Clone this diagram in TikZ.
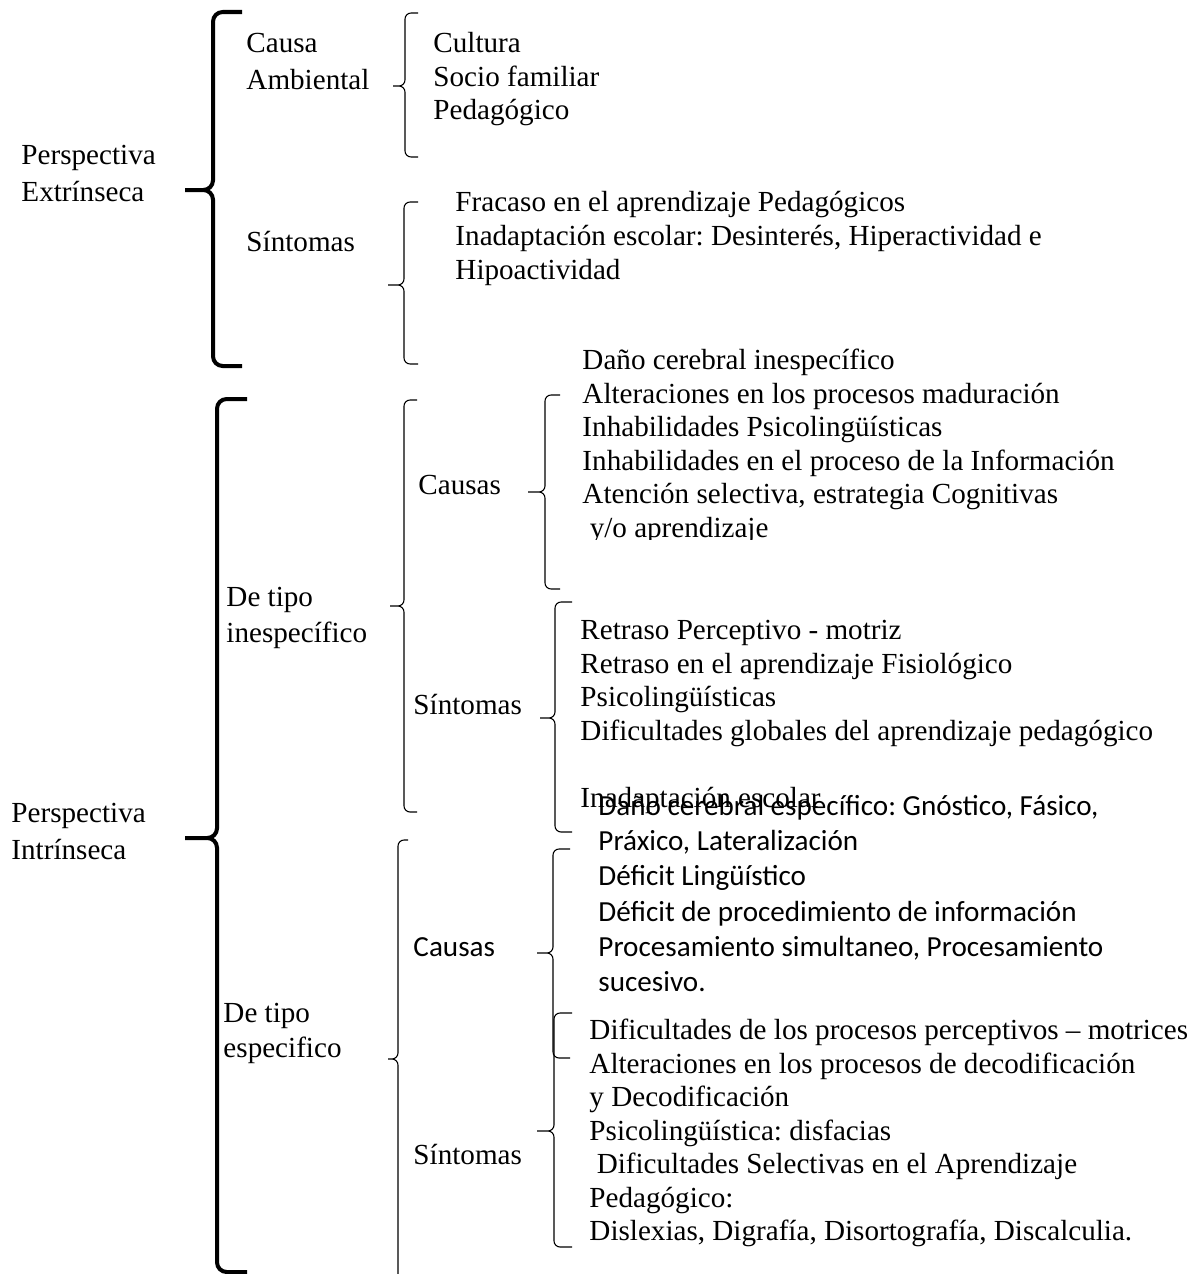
\documentclass[tikz,border=0pt]{standalone}
\usepackage{fontspec}
\setmainfont{Liberation Serif}
\newfontfamily\calibri{Carlito}
\frenchspacing
\tikzstyle{titulo} = [anchor=base west, inner sep=0pt, align=left, font=\fontsize{12}{15.2}\selectfont]
\tikzstyle{lista} = [anchor=base west, inner sep=0pt, align=left, font=\fontsize{12}{13.8}\selectfont]
\tikzstyle{listasans} = [anchor=base west, inner sep=0pt, align=left, font=\calibri\fontsize{12}{14.5}\selectfont]
\tikzstyle{llave} = [line width=0.45pt, rounded corners=2.5pt]
\tikzstyle{llavegruesa} = [line width=1.65pt, rounded corners=4pt]

\begin{document}
\begin{tikzpicture}[x=0.412pt, y=-0.412pt]
	\useasboundingbox (0,0) rectangle (1203,1274);

	% perspectiva extrinseca
	\node [titulo] at (21,201.5) (pext) {Perspectiva\\Extrínseca};
	\node [titulo] at (246,89.5) (causaamb) {Causa\\Ambiental};
	\node [lista] at (433,119.5) (listaamb) {Cultura\\Socio familiar\\Pedagógico};
	\node [titulo] at (246,251.5) (sinext) {Síntomas};
	\node [lista, font=\fontsize{12}{14}\selectfont] at (455,279.5) (listasinext) {Fracaso en el aprendizaje Pedagógicos\\Inadaptación escolar: Desinterés, Hiperactividad e\\Hipoactividad};

	% perspectiva intrinseca
	\node [titulo] at (11,859.5) (pint) {Perspectiva\\Intrínseca};
	\node [titulo, font=\fontsize{12}{14.8}\selectfont] at (226,642.5) (inesp) {De tipo\\inespecífico};
	\node [titulo] at (418,494.5) (causasin) {Causas};
	\begin{scope}
		\clip (560,340) rectangle (1203,539);
		\node [lista] at (582,537) (listacausasin) {Daño cerebral inespecífico\\Alteraciones en los procesos maduración\\Inhabilidades Psicolingüísticas\\Inhabilidades en el proceso de la Información\\Atención selectiva, estrategia Cognitivas\\\hspace*{0.25em}y/o aprendizaje};
	\end{scope}
	\node [titulo] at (413,714.5) (sinin) {Síntomas};
	\node [lista] at (580,807) (listasinin) {Retraso Perceptivo - motriz\\Retraso en el aprendizaje Fisiológico\\Psicolingüísticas\\Dificultades globales del aprendizaje pedagógico\\[13.8pt]Inadaptación escolar};
	\node [titulo, font=\fontsize{12}{14.4}\selectfont] at (223,1057.5) (esp) {De tipo\\especifico};
	\node [titulo, font=\calibri\fontsize{12}{14.5}\selectfont] at (413,956) (causases) {Causas};
	\node [listasans] at (598,991.5) (listacausases) {Daño cerebral específico: Gnóstico, Fásico,\\Práxico, Lateralización\\Déficit Lingüístico\\Déficit de procedimiento de información\\Procesamiento simultaneo, Procesamiento\\sucesivo.};
	\node [titulo] at (413,1164.5) (sines) {Síntomas};
	\node [lista] at (589,1240.5) (listasines) {Dificultades de los procesos perceptivos – motrices\\Alteraciones en los procesos de decodificación\\y Decodificación\\Psicolingüística: disfacias\\\hspace*{0.25em}Dificultades Selectivas en el Aprendizaje\\Pedagógico:\\Dislexias, Digrafía, Disortografía, Discalculia.};

	% llaves: extremo de arriba, punta, extremo de abajo
	\coordinate (ext-t) at (242,12);
	\coordinate (ext-p) at (185,190);
	\coordinate (ext-b) at (242,366);
	\coordinate (int-t) at (247,399);
	\coordinate (int-p) at (185,838);
	\coordinate (int-b) at (247,1272);
	\coordinate (amb-t) at (418,13);
	\coordinate (amb-p) at (393,86);
	\coordinate (amb-b) at (418,157);
	\coordinate (sext-t) at (418,202);
	\coordinate (sext-p) at (388,285);
	\coordinate (sext-b) at (418,364);
	\coordinate (inesp-t) at (417,400);
	\coordinate (inesp-p) at (390,606);
	\coordinate (inesp-b) at (417,812);
	\coordinate (cin-t) at (560,395);
	\coordinate (cin-p) at (528,492);
	\coordinate (cin-b) at (560,589);
	\coordinate (sin-t) at (572,602);
	\coordinate (sin-p) at (540,718);
	\coordinate (sin-b) at (572,832);
	\coordinate (esp-t) at (408,840);
	\coordinate (esp-p) at (388,1059);
	\coordinate (esp-b) at (398,1274);
	\coordinate (ces-t) at (570,849);
	\coordinate (ces-p) at (537,953);
	\coordinate (ces-b) at (570,1058);
	\coordinate (ses-t) at (572,1013);
	\coordinate (ses-p) at (537,1131);
	\coordinate (ses-b) at (572,1247);

	\draw [llavegruesa] (ext-t) -- ++(-29,0) |- (ext-p) (ext-p) -- ++(28,0) |- (ext-b);
	\draw [llavegruesa] (int-t) -- ++(-30,0) |- (int-p) (int-p) -- ++(32,0) |- (int-b);
	\draw [llave] (amb-t) -- ++(-13,0) |- (amb-p) (amb-p) -- ++(12,0) |- (amb-b);
	\draw [llave] (sext-t) -- ++(-14,0) |- (sext-p) (sext-p) -- ++(16,0) |- (sext-b);
	\draw [llave] (inesp-t) -- ++(-13,0) |- (inesp-p) (inesp-p) -- ++(14,0) |- (inesp-b);
	\draw [llave] (cin-t) -- ++(-15,0) |- (cin-p) (cin-p) -- ++(17,0) |- (cin-b);
	\draw [llave] (sin-t) -- ++(-17,0) |- (sin-p) (sin-p) -- ++(15,0) |- (sin-b);
	\draw [llave] (esp-t) -- ++(-10,0) |- (esp-p) (esp-p) -- ++(10,0) |- (esp-b);
	\draw [llave] (ces-t) -- ++(-17,0) |- (ces-p) (ces-p) -- ++(16,0) |- (ces-b);
	\draw [llave] (ses-t) -- ++(-18,0) |- (ses-p) (ses-p) -- ++(17,0) |- (ses-b);
\end{tikzpicture}
\end{document}
